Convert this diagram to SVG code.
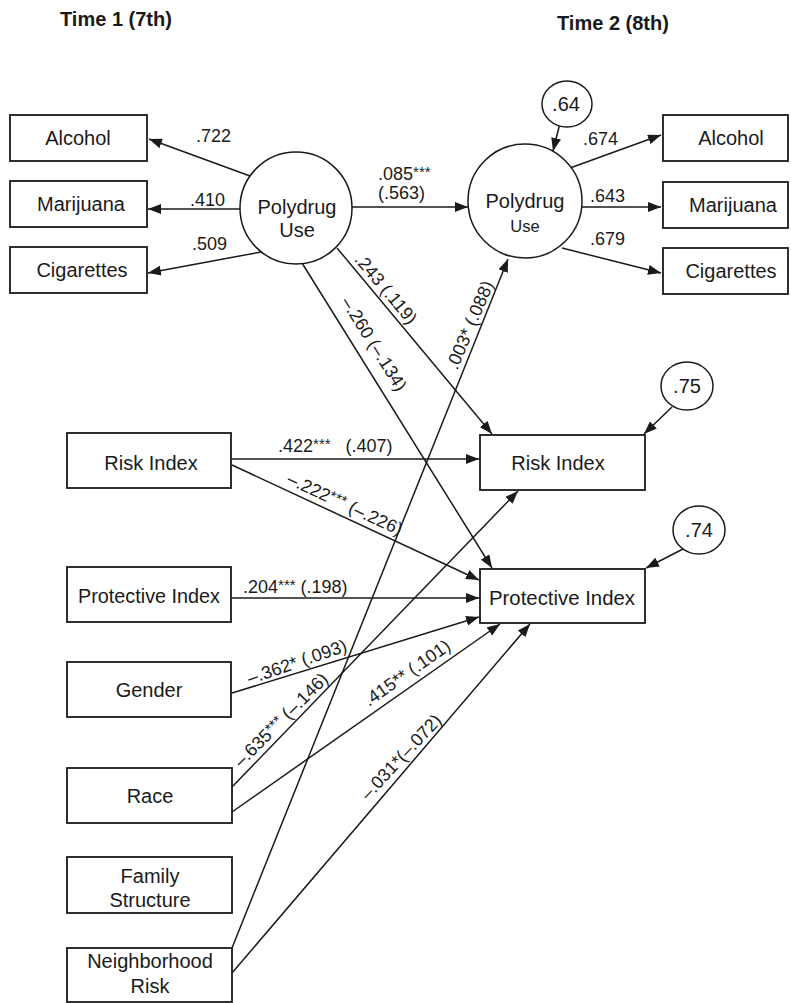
<svg xmlns="http://www.w3.org/2000/svg" width="791" height="1003" viewBox="0 0 791 1003">
<style>
text{font-family:"Liberation Sans",Arial,Helvetica,sans-serif;fill:#1a1a1a}
.t{font-size:20px;font-weight:bold}
.b{font-size:20px;text-anchor:middle}
.n{font-size:18px}
.r{font-size:18px;text-anchor:middle}
.s{font-size:15px}
.box{fill:#fff;stroke:#1a1a1a;stroke-width:1.8}
.circ{fill:#fff;stroke:#1a1a1a;stroke-width:1.5}
.c line{stroke:#1a1a1a;stroke-width:1.5;marker-end:url(#ah)}
</style>
<defs>
<marker id="ah" markerUnits="userSpaceOnUse" markerWidth="14" markerHeight="10" refX="13" refY="5" orient="auto">
<path d="M0,0 L13,5 L0,10 z" fill="#1a1a1a"/>
</marker>
</defs>
<rect width="791" height="1003" fill="#fff"/>
<text class="t" x="60" y="26">Time 1 (7th)</text>
<text class="t" x="557" y="30">Time 2 (8th)</text>

<g class="c" id="connectors">
<line x1="250" y1="176" x2="149" y2="139"/>
<line x1="240" y1="209" x2="148" y2="209"/>
<line x1="261" y1="252" x2="148" y2="273"/>
<line x1="352" y1="207" x2="468" y2="207"/>
<line x1="560" y1="123" x2="553" y2="151"/>
<line x1="570" y1="168" x2="661" y2="135"/>
<line x1="582" y1="207" x2="661" y2="207"/>
<line x1="562" y1="248" x2="661" y2="273"/>
<line x1="337" y1="248" x2="492" y2="434"/>
<line x1="302" y1="263" x2="492" y2="568"/>
<line x1="232" y1="459" x2="479" y2="459"/>
<line x1="232" y1="465" x2="479" y2="580"/>
<line x1="232" y1="598" x2="479" y2="598"/>
<line x1="232" y1="693" x2="479" y2="617"/>
<line x1="232" y1="787" x2="518" y2="491"/>
<line x1="232" y1="812" x2="500" y2="624"/>
<line x1="232" y1="948" x2="508" y2="259"/>
<line x1="232" y1="973" x2="530" y2="624"/>
<line x1="672" y1="407" x2="644" y2="434"/>
<line x1="683" y1="549" x2="646" y2="568"/>
</g>

<g id="labels">
<text class="n" x="196" y="142">.722</text>
<text class="n" x="190" y="206">.410</text>
<text class="n" x="192" y="250">.509</text>
<text class="n" x="378" y="180">.085<tspan class="s" dy="-3">***</tspan></text>
<text class="n" x="378" y="199">(.563)</text>
<text class="n" x="583" y="145">.674</text>
<text class="n" x="590" y="202">.643</text>
<text class="n" x="590" y="245">.679</text>
<text class="n" x="278" y="452">.422<tspan class="s" dy="-3">***</tspan><tspan dy="3" xml:space="preserve">   (.407)</tspan></text>
<text class="n" x="243" y="593">.204<tspan class="s" dy="-3">***</tspan><tspan dy="3"> (.198)</tspan></text>
<text class="r" transform="translate(386,289) rotate(50)" dy="6">.243 (.119)</text>
<text class="r" transform="translate(374,344) rotate(58)" dy="6">–.260 (–.134)</text>
<text class="r" transform="translate(470,325) rotate(-67)" dy="6">.003* (.088)</text>
<text class="r" transform="translate(345,504) rotate(25)" dy="6">–.222<tspan class="s" dy="-3">***</tspan><tspan dy="3"> (–.226)</tspan></text>
<text class="r" transform="translate(297,662) rotate(-19)" dy="6">–.362* (.093)</text>
<text class="r" transform="translate(281,720) rotate(-45)" dy="6">–.635<tspan class="s" dy="-3">***</tspan><tspan dy="3"> (–.146)</tspan></text>
<text class="r" transform="translate(407,673) rotate(-35)" dy="6">.415** (.101)</text>
<text class="r" transform="translate(401,757) rotate(-47)" dy="6">–.031*(–.072)</text>
</g>

<g id="alcohol1"><rect class="box" x="10" y="115" width="137" height="46"/><text class="b" x="78" y="145">Alcohol</text></g>
<g id="marijuana1"><rect class="box" x="10" y="181" width="137" height="46"/><text class="b" x="81" y="211">Marijuana</text></g>
<g id="cigarettes1"><rect class="box" x="10" y="247" width="137" height="46"/><text class="b" x="82" y="277">Cigarettes</text></g>
<g id="polydrug1"><circle class="circ" cx="296" cy="208" r="56"/><text class="b" x="297" y="214">Polydrug</text><text class="b" x="297" y="237">Use</text></g>

<g id="e64"><ellipse class="circ" cx="567" cy="104" rx="25" ry="23"/><text class="b" x="566" y="111">.64</text></g>
<g id="polydrug2"><circle class="circ" cx="525" cy="201" r="57"/><text class="b" x="525" y="208">Polydrug</text><text class="b" x="525" y="232" style="font-size:16.5px">Use</text></g>
<g id="alcohol2"><rect class="box" x="663" y="115" width="125" height="46"/><text class="b" x="731" y="145">Alcohol</text></g>
<g id="marijuana2"><rect class="box" x="663" y="182" width="125" height="46"/><text class="b" x="733" y="212">Marijuana</text></g>
<g id="cigarettes2"><rect class="box" x="663" y="248" width="125" height="46"/><text class="b" x="731" y="278">Cigarettes</text></g>

<g id="e75"><ellipse class="circ" cx="687" cy="386" rx="26" ry="24"/><text class="b" x="687" y="393">.75</text></g>
<g id="risk2"><rect class="box" x="480" y="435" width="165" height="55"/><text class="b" x="558" y="470">Risk Index</text></g>
<g id="e74"><ellipse class="circ" cx="699" cy="530" rx="26" ry="24"/><text class="b" x="699" y="537">.74</text></g>
<g id="protective2"><rect class="box" x="480" y="569" width="165" height="54"/><text class="b" x="562" y="605" textLength="146" lengthAdjust="spacingAndGlyphs">Protective Index</text></g>

<g id="risk1"><rect class="box" x="67" y="433" width="164" height="55"/><text class="b" x="151" y="470">Risk Index</text></g>
<g id="protective1"><rect class="box" x="67" y="567" width="164" height="55"/><text class="b" x="149" y="603" textLength="142" lengthAdjust="spacingAndGlyphs">Protective Index</text></g>
<g id="gender"><rect class="box" x="67" y="662" width="164" height="55"/><text class="b" x="149" y="697">Gender</text></g>
<g id="race"><rect class="box" x="67" y="768" width="165" height="55"/><text class="b" x="150" y="803">Race</text></g>
<g id="family"><rect class="box" x="67" y="857" width="165" height="56"/><text class="b" x="150" y="883">Family</text><text class="b" x="150" y="907">Structure</text></g>
<g id="neighborhood"><rect class="box" x="67" y="948" width="165" height="54"/><text class="b" x="150" y="968">Neighborhood</text><text class="b" x="150" y="993">Risk</text></g>
</svg>
